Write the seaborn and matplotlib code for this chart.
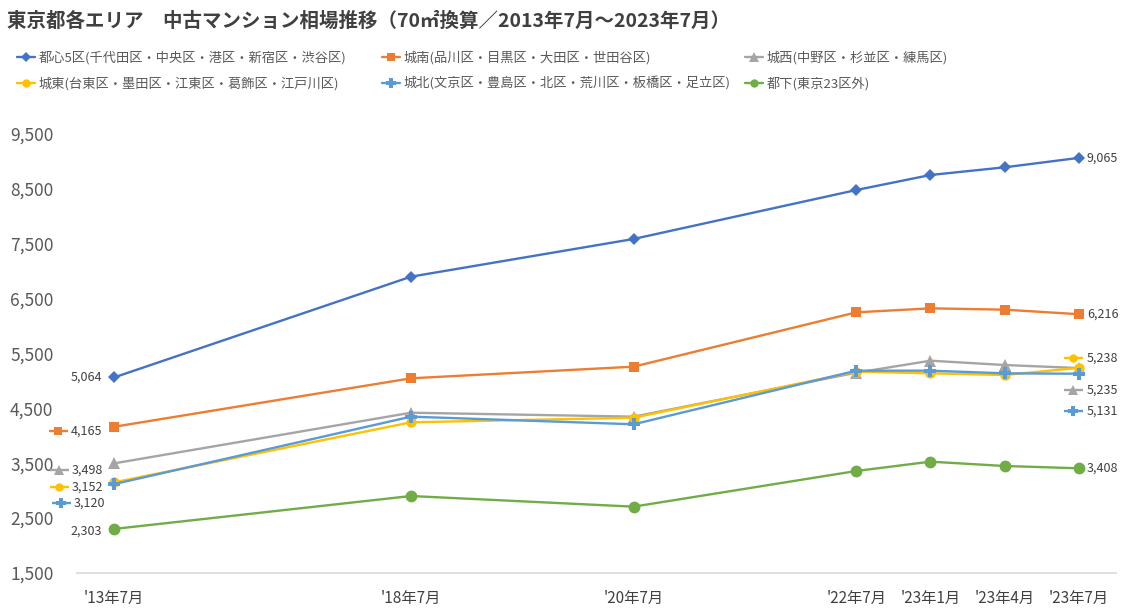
import matplotlib
matplotlib.use("Agg")
import matplotlib.pyplot as plt
import matplotlib.transforms as mtransforms
import seaborn as sns
import pandas as pd

# ---------------- data ----------------
periods = ["'13年7月", "'18年7月", "'20年7月", "'22年7月", "'23年1月", "'23年4月", "'23年7月"]
period_pos = [0, 4, 7, 10, 11, 12, 13]  # spacing of the original axis

series_names = [
    "都心5区(千代田区・中央区・港区・新宿区・渋谷区)",
    "城南(品川区・目黒区・大田区・世田谷区)",
    "城西(中野区・杉並区・練馬区)",
    "城東(台東区・墨田区・江東区・葛飾区・江戸川区)",
    "城北(文京区・豊島区・北区・荒川区・板橋区・足立区)",
    "都下(東京23区外)",
]
toshin5 = [5064, 6900, 7587, 8479, 8753, 8893, 9065]
jonan = [4165, 5048, 5260, 6250, 6323, 6299, 6216]
josai = [3498, 4421, 4349, 5150, 5369, 5290, 5235]
joto = [3152, 4246, 4330, 5169, 5139, 5108, 5238]
johoku = [3120, 4349, 4210, 5187, 5187, 5139, 5131]
tokka = [2303, 2903, 2709, 3359, 3529, 3450, 3408]
series_values = [toshin5, jonan, josai, joto, johoku, tokka]

y_ticks = [1500, 2500, 3500, 4500, 5500, 6500, 7500, 8500, 9500]
title = "東京都各エリア　中古マンション相場推移（70㎡換算／2013年7月～2023年7月）"

# ---------------- style ----------------
colors = ["#4472C4", "#ED7D31", "#A5A5A5", "#FFC000", "#5B9BD5", "#70AD47"]
markers = ["D", "s", "^", "o", "P", "o"]
msizes = [6.5, 7.5, 8.0, 7.5, 8.5, 8.5]
leg_msizes = [5.0, 6.0, 6.5, 6.0, 6.5, 6.0]

sns.set_theme(style="white")
plt.rcParams["font.family"] = ["Noto Sans CJK JP", "DejaVu Sans"]

DPI = 100
fig = plt.figure(figsize=(11.22, 6.16), dpi=DPI)
W, H = 1122, 616
ax = fig.add_axes([77 / W, 1 - 573 / H, (1116 - 77) / W, (573 - 134) / H])

rows = []
for name, vals in zip(series_names, series_values):
    for p, v in zip(period_pos, vals):
        rows.append({"pos": p, "value": v, "series": name})
df = pd.DataFrame(rows)

for i, name in enumerate(series_names):
    sub = df[df["series"] == name]
    sns.lineplot(data=sub, x="pos", y="value", ax=ax, color=colors[i],
                 marker=markers[i], markersize=msizes[i], markeredgewidth=0,
                 linewidth=1.7, label=name, zorder=3 + i)

if ax.get_legend() is not None:
    ax.get_legend().remove()

ax.set_xlim(-0.5, 13.5)
ax.set_ylim(1500, 9500)
ax.set_xticks(period_pos)
ax.set_xticklabels(periods)
ax.set_yticks(y_ticks)
ax.set_yticklabels([f"{t:,}" for t in y_ticks])
ax.set_xlabel("")
ax.set_ylabel("")
ax.grid(False)
for s in ["left", "right", "top"]:
    ax.spines[s].set_visible(False)
ax.spines["bottom"].set_color("#D9D9D9")
ax.spines["bottom"].set_linewidth(1.2)
ax.tick_params(axis="y", length=0, pad=17, labelsize=12.5, labelcolor="#595959")
ax.tick_params(axis="x", length=0, pad=12, labelsize=11, labelcolor="#404040")

# ---------------- data labels ----------------
# (series, point index, dx px, dy px (down +), keyed)
label_specs = [
    (0, 0, -12, 0, False), (0, 6, 8, 0, False),
    (1, 0, -43, 4, True), (1, 6, 8, 0, False),
    (2, 0, -42, 7, True), (2, 6, 8, 22, True),
    (3, 0, -42, 5, True), (3, 6, 8, -10, True),
    (4, 0, -40, 19, True), (4, 6, 8, 37, True),
    (5, 0, -12, 2, False), (5, 6, 8, 0, False),
]
px2pt = 72.0 / DPI
for si, pi, dx, dy, keyed in label_specs:
    x = period_pos[pi]
    y = series_values[si][pi]
    ha = "left" if (keyed or dx > 0) else "right"
    ax.annotate(f"{y:,}", xy=(x, y), xytext=(dx * px2pt, -dy * px2pt),
                textcoords="offset points", ha=ha, va="center",
                fontsize=9, color="#404040", zorder=20)
    if keyed:
        tr = ax.transData + mtransforms.ScaledTranslation(
            (dx - 13.5) / DPI, -dy / DPI, fig.dpi_scale_trans)
        ax.plot([x], [y], marker="_", markersize=19 * px2pt, markeredgewidth=1.7,
                color=colors[si], transform=tr, zorder=20, clip_on=False)
        ax.plot([x], [y], marker=markers[si], markersize=leg_msizes[si],
                markeredgewidth=0, color=colors[si], transform=tr, zorder=21,
                clip_on=False)

# ---------------- legend ----------------
col_groups = [[0, 3], [1, 4], [2, 5]]
col_x = [17, 382, 745]
for grp, cx in zip(col_groups, col_x):
    hs = []
    for i in grp:
        h = plt.Line2D([], [], color=colors[i], marker=markers[i],
                       markersize=leg_msizes[i], markeredgewidth=0, linewidth=1.7)
        hs.append(h)
    fig.legend(hs, [series_names[i] for i in grp], loc="upper left",
               bbox_to_anchor=(cx / W, 1 - 51 / H), frameon=False,
               fontsize=9.5, handlelength=1.35, handletextpad=0.3,
               labelspacing=0.9, borderpad=0, borderaxespad=0,
               labelcolor="#595959")

fig.text(7 / W, 1 - 21 / H, title, fontsize=14, fontweight="bold",
         color="#404040", ha="left", va="center")

fig.savefig("out.png", dpi=DPI)
